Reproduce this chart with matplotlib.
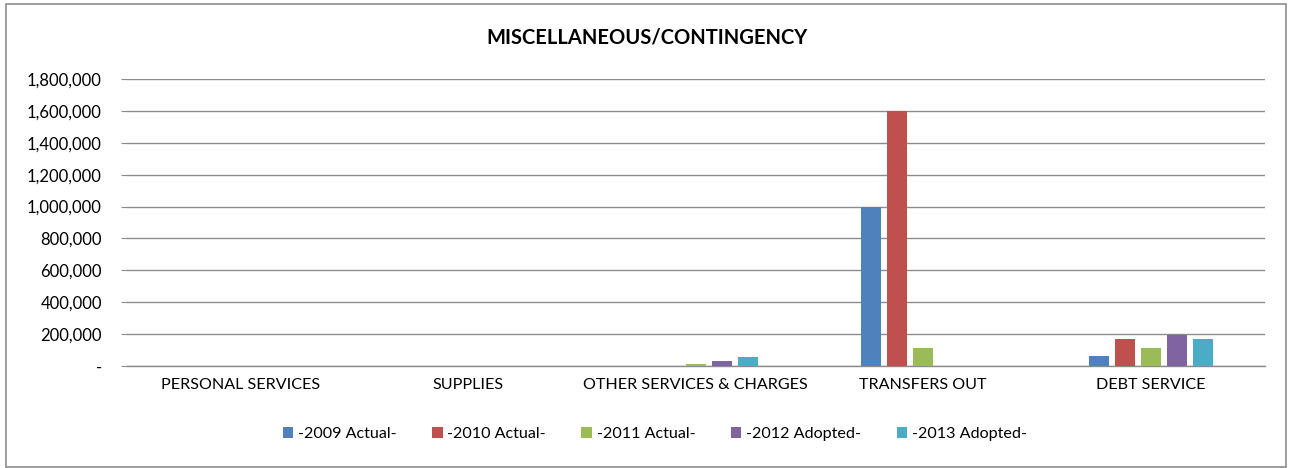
import matplotlib
matplotlib.use("Agg")
import matplotlib.pyplot as plt
import numpy as np
from matplotlib.patches import Rectangle
from matplotlib.ticker import FuncFormatter

plt.rcParams["font.family"] = ["Lato", "DejaVu Sans"]

categories = ["PERSONAL SERVICES", "SUPPLIES", "OTHER SERVICES & CHARGES",
              "TRANSFERS OUT", "DEBT SERVICE"]
series = ["-2009 Actual-", "-2010 Actual-", "-2011 Actual-",
          "-2012 Adopted-", "-2013 Adopted-"]
actual_2009 = [0, 0, 0, 1000000, 62000]
actual_2010 = [0, 0, 0, 1600000, 167000]
actual_2011 = [0, 0, 10000, 112000, 111000]
adopted_2012 = [0, 0, 31000, 0, 196000]
adopted_2013 = [0, 0, 55000, 0, 167000]
values = [actual_2009, actual_2010, actual_2011, adopted_2012, adopted_2013]
colors = ["#4f81bd", "#c0504d", "#9bbb59", "#8064a2", "#4bacc6"]

fig = plt.figure(figsize=(12.89, 4.68), dpi=100)
fig.patches.append(Rectangle((0.005, 0.003), 0.993, 0.988, transform=fig.transFigure,
                             fill=False, edgecolor="#8c8c8c", linewidth=1.2))

ax = fig.add_axes([0.0985, 0.218, 0.8825, 0.613])
x = np.arange(len(categories))
step = 0.1145
width = 0.088
for i, (name, vals, col) in enumerate(zip(series, values, colors)):
    ax.bar(x + (i - 2) * step, vals, width=width, color=col, label=name, zorder=3)

ax.set_xlim(-0.5, len(categories) - 0.5)
ax.set_ylim(0, 1800000)
ax.set_yticks(np.arange(0, 1800001, 200000))
ax.yaxis.set_major_formatter(FuncFormatter(lambda v, _: "-" if v == 0 else f"{v:,.0f}"))
ax.grid(axis="y", color="#8c8c8c", linewidth=1.0, zorder=0)
ax.set_xticks(x)
ax.set_xticklabels(categories)
for side in ("top", "right", "left"):
    ax.spines[side].set_visible(False)
ax.spines["bottom"].set_color("#8c8c8c")
ax.spines["bottom"].set_linewidth(1.0)
ax.tick_params(axis="y", length=4, color="#8c8c8c", labelsize=12, pad=14)
ax.tick_params(axis="x", length=0, labelsize=11.6, pad=9)

fig.text(0.502, 0.92, "MISCELLANEOUS/CONTINGENCY", ha="center", va="center",
         fontsize=14.5, fontweight="bold")
fig.legend(loc="center", bbox_to_anchor=(0.508, 0.073), ncol=5, frameon=False,
           fontsize=11.6, handlelength=0.65, handleheight=0.65, handletextpad=0.3,
           columnspacing=2.2)

fig.savefig("out.png", dpi=100)
